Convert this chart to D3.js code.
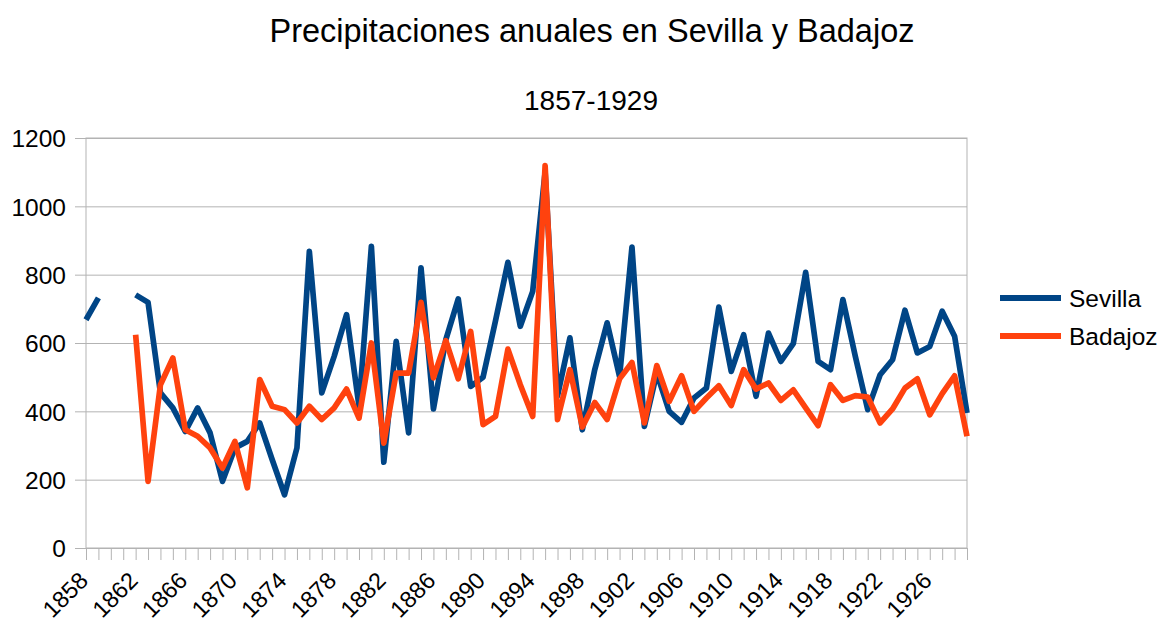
<!DOCTYPE html>
<html>
<head>
<meta charset="utf-8">
<script src="https://cdn.jsdelivr.net/npm/d3@7"></script>
<style>
  body { margin: 0; background: #fff; }
  svg { display: block; font-family: "Liberation Sans", Arial, sans-serif; }
</style>
</head>
<body>
<svg width="1164" height="623"></svg>
<script>
// years on the category axis
var years = d3.range( 1858, 1930 );
// annual rainfall (mm), null where no record
var sevilla = [ 668, 732, null, null, 741, 719, 454, 410, 341, 410,
    337, 195, 293, 312, 366, 259, 156, 293, 868, 454,
    561, 683, 415, 883, 251, 605, 337, 820, 407, 610,
    729, 473, 500, 665, 836, 649, 751, 1100, 445, 615,
    346, 522, 659, 502, 881, 356, 512, 400, 368, 439,
    468, 705, 517, 624, 444, 629, 546, 598, 807, 546,
    522, 727, 561, 405, 507, 551, 696, 571, 590, 693,
    620, 395 ];
var badajoz = [ null, null, null, null, 624, 195, 478, 556, 346, 327,
    293, 234, 312, 176, 493, 415, 405, 366, 415, 376,
    410, 465, 380, 600, 307, 512, 512, 719, 498, 607,
    495, 634, 361, 385, 582, 478, 385, 1119, 376, 522,
    354, 426, 376, 495, 543, 366, 534, 429, 504, 400,
    439, 475, 417, 522, 465, 483, 432, 463, 410, 358,
    478, 432, 446, 442, 366, 407, 468, 495, 390, 452,
    504, 327 ];
var yTicks = [ 0, 200, 400, 600, 800, 1000, 1200 ];
var seriesNames = [ "Sevilla", "Badajoz" ];
var seriesColors = [ "#004586", "#ff420e" ];

var svg = d3.select( "svg" );
// plot area edges ("top" is taken by window.top)
var pL = 86, pR = 967, pT = 138, pB = 548;

var scX = d3.scalePoint()
    .domain( years )
    .range( [pL, pR] );
var scY = d3.scaleLinear()
    .domain( [0, 1200] )
    .range( [pB, pT] );

// titles
svg.append( "text" )
    .attr( "x", 592 ).attr( "y", 42 )
    .attr( "text-anchor", "middle" )
    .attr( "font-size", 32.5 )
    .text( "Precipitaciones anuales en Sevilla y Badajoz" );
svg.append( "text" )
    .attr( "x", 591 ).attr( "y", 110 )
    .attr( "text-anchor", "middle" )
    .attr( "font-size", 28 )
    .text( "1857-1929" );

// horizontal grid, drawn as y axis with outer ticks
var yAxis = svg.append( "g" )
    .attr( "transform", "translate(" + pL + ",0)" )
    .call( d3.axisLeft( scY ).tickValues( yTicks ).tickFormat( d3.format( "d" ) )
        .tickSize( -(pR - pL) ).tickPadding( 20 ) );
yAxis.select( ".domain" ).remove();
yAxis.selectAll( ".tick line" )
    .attr( "x1", -11 )
    .attr( "stroke", "#b3b3b3" );
yAxis.selectAll( ".tick text" )
    .attr( "font-size", 24.5 )
    .attr( "fill", "#000" )
    .attr( "dy", "0.36em" );

// plot border
svg.append( "rect" )
    .attr( "x", pL ).attr( "y", pT )
    .attr( "width", pR - pL ).attr( "height", pB - pT )
    .attr( "fill", "none" ).attr( "stroke", "#b3b3b3" );

// x axis: a tick for every year, a label every 4 years
var xAxis = svg.append( "g" )
    .attr( "transform", "translate(0," + pB + ")" )
    .call( d3.axisBottom( scX ).tickSizeOuter( 0 ).tickSize( 12 )
        .tickFormat( d => (d - 1858) % 4 == 0 ? d : "" ) );
xAxis.select( ".domain" ).attr( "stroke", "#b3b3b3" );
xAxis.selectAll( ".tick line" ).attr( "stroke", "#b3b3b3" );
xAxis.selectAll( ".tick text" )
    .attr( "font-size", 23.5 )
    .attr( "fill", "#000" )
    .attr( "text-anchor", "end" )
    .attr( "x", 0 ).attr( "y", 0 ).attr( "dy", 0 )
    .attr( "transform", "translate(3,34) rotate(-45)" );

// lines
var lineMaker = d3.line()
    .defined( d => d != null )
    .x( (d, i) => scX( years[i] ) )
    .y( d => scY( d ) );
[sevilla, badajoz].forEach( function( vals, k ) {
    svg.append( "path" )
        .attr( "fill", "none" )
        .attr( "stroke", seriesColors[k] )
        .attr( "stroke-width", 5.7 )
        .attr( "stroke-linejoin", "round" )
        .attr( "d", lineMaker( vals ) );
} );

// legend
var legend = svg.append( "g" ).selectAll( "g" )
    .data( seriesNames ).enter().append( "g" )
    .attr( "transform", (d, i) => "translate(1000," + (298 + i * 38) + ")" );
legend.append( "line" )
    .attr( "x1", 0 ).attr( "x2", 61 )
    .attr( "stroke", (d, i) => seriesColors[i] )
    .attr( "stroke-width", 6 );
legend.append( "text" )
    .attr( "x", 69 ).attr( "dy", "0.36em" )
    .attr( "font-size", 24.5 )
    .text( d => d );
</script>
</body>
</html>
